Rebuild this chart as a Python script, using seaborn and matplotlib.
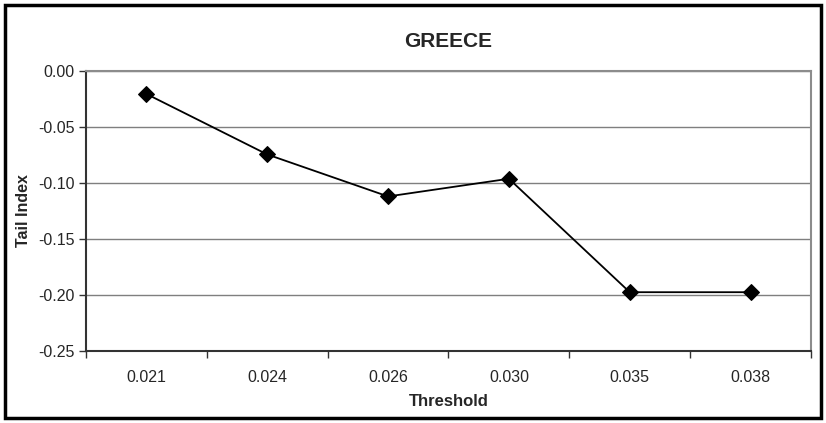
import matplotlib
matplotlib.use("Agg")
import matplotlib.pyplot as plt
import seaborn as sns
import pandas as pd
from matplotlib.patches import Rectangle
from matplotlib.ticker import FixedLocator, NullFormatter

thresholds = ["0.021", "0.024", "0.026", "0.030", "0.035", "0.038"]
tail_index = [-0.0205, -0.0745, -0.112, -0.0962, -0.1975, -0.1975]

df = pd.DataFrame({"Threshold": thresholds, "TailIndex": tail_index})
df["pos"] = range(len(df))

sns.set_style("white")
plt.rcParams["font.family"] = ["Liberation Sans", "DejaVu Sans"]

fig = plt.figure(figsize=(8.26, 4.23), dpi=100)
ax = fig.add_axes([86 / 826, 1 - 351 / 423, (811 - 86) / 826, (351 - 71) / 423])

sns.lineplot(
    data=df,
    x="pos",
    y="TailIndex",
    color="black",
    linewidth=1.3,
    marker="D",
    markersize=8,
    markerfacecolor="black",
    markeredgecolor="black",
    ax=ax
)

ax.set_xlim(-0.5, len(thresholds) - 0.5)
ax.set_ylim(-0.25, 0.0)
ax.set_yticks([0.0, -0.05, -0.10, -0.15, -0.20, -0.25])
ax.set_yticklabels(["0.00", "-0.05", "-0.10", "-0.15", "-0.20", "-0.25"], fontsize=11.5)

ax.set_xticks(df["pos"])
ax.set_xticklabels(thresholds, fontsize=11.5)
ax.tick_params(axis="x", which="major", length=0, pad=14)
ax.xaxis.set_minor_locator(FixedLocator([i - 0.5 for i in range(len(thresholds) + 1)]))
ax.xaxis.set_minor_formatter(NullFormatter())
ax.tick_params(axis="x", which="minor", length=5, width=1, color="#333333", direction="out", bottom=True)
ax.tick_params(axis="y", length=5, width=1, color="#333333", direction="out", left=True, pad=3)

ax.grid(True, axis="y", color="#7f7f7f", linewidth=1)
ax.set_axisbelow(True)

for side in ["left", "bottom"]:
    ax.spines[side].set_color("#333333")
    ax.spines[side].set_linewidth(1.5)
for side in ["top", "right"]:
    ax.spines[side].set_color("#8c8c8c")
    ax.spines[side].set_linewidth(1.5)

ax.set_xlabel("Threshold", fontsize=12, fontweight="bold", labelpad=6)
ax.set_ylabel("Tail Index", fontsize=11.5, fontweight="bold", labelpad=5)
ax.set_title("GREECE", fontsize=15, fontweight="bold", pad=17)

fig.patches.append(Rectangle((5 / 826, 5 / 423), 816 / 826, 413 / 423,
                             transform=fig.transFigure, fill=False,
                             edgecolor="black", linewidth=2.5))

fig.savefig("out.png", dpi=100)
